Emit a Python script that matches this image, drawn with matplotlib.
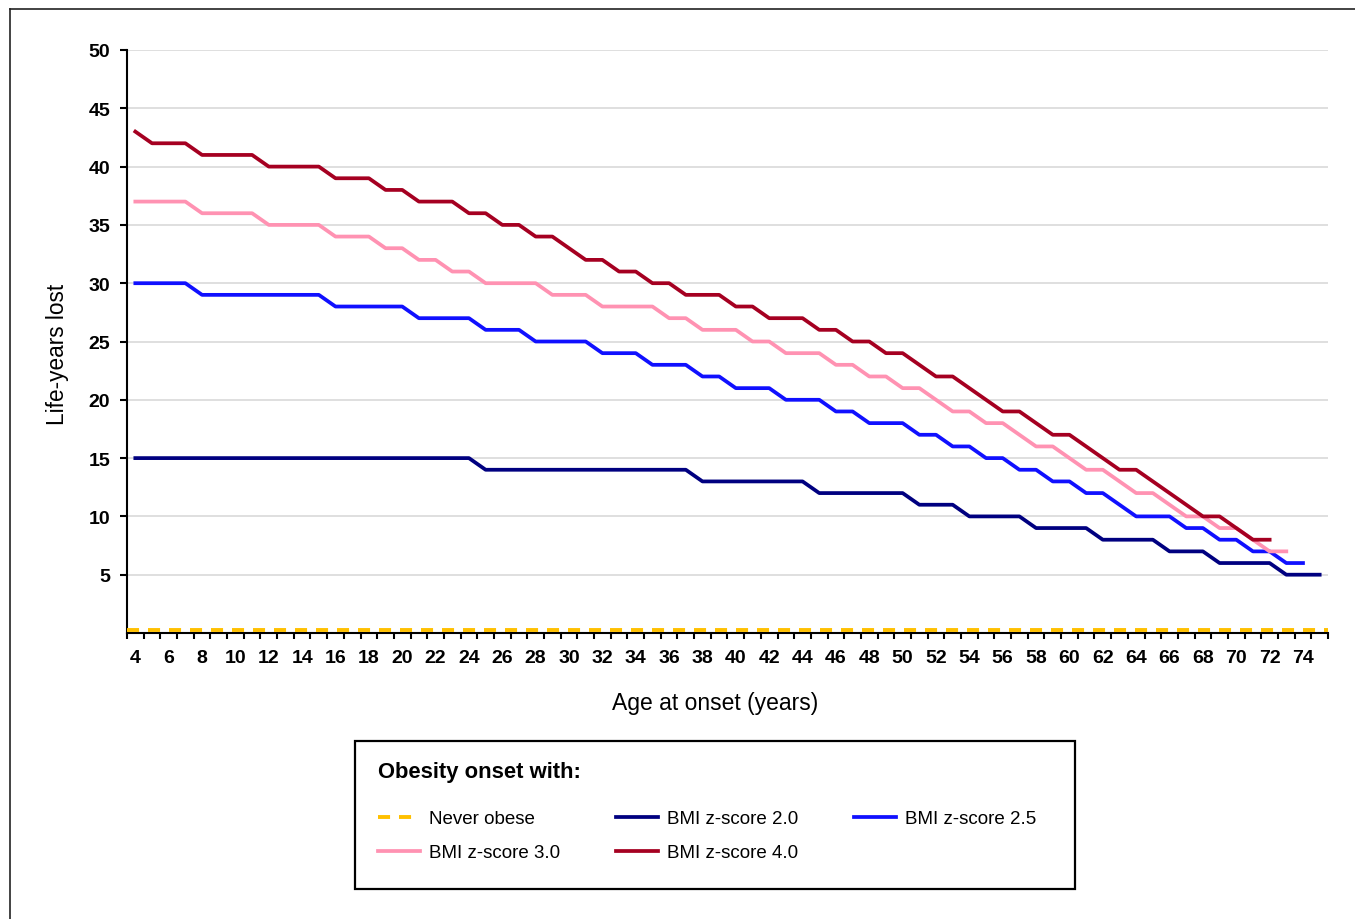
import matplotlib
matplotlib.use("Agg")
import matplotlib.pyplot as plt
from matplotlib.lines import Line2D
from matplotlib.patches import Rectangle

plt.rcParams['font.family'] = ['Liberation Sans', 'DejaVu Sans']

# data: life-years lost by age at obesity onset
ages = list(range(4, 76))
never_obese = 0.3
z20 = [15, 15, 15, 15, 15, 15, 15, 15, 15, 15, 15, 15, 15, 15, 15, 15, 15, 15, 15, 15, 15,
       14, 14, 14, 14, 14, 14, 14, 14, 14, 14, 14, 14, 14,
       13, 13, 13, 13, 13, 13, 13,
       12, 12, 12, 12, 12, 12,
       11, 11, 11,
       10, 10, 10, 10,
       9, 9, 9, 9,
       8, 8, 8, 8,
       7, 7, 7,
       6, 6, 6, 6,
       5, 5, 5]
z25 = [30, 30, 30, 30, 29, 29, 29, 29, 29, 29, 29, 29, 28, 28, 28, 28, 28,
       27, 27, 27, 27, 26, 26, 26, 25, 25, 25, 25, 24, 24, 24, 23, 23, 23,
       22, 22, 21, 21, 21, 20, 20, 20, 19, 19, 18, 18, 18, 17, 17, 16, 16,
       15, 15, 14, 14, 13, 13, 12, 12, 11, 10, 10, 10, 9, 9, 8, 8, 7, 7, 6, 6]
z30 = [37, 37, 37, 37, 36, 36, 36, 36, 35, 35, 35, 35, 34, 34, 34, 33, 33,
       32, 32, 31, 31, 30, 30, 30, 30, 29, 29, 29, 28, 28, 28, 28, 27, 27,
       26, 26, 26, 25, 25, 24, 24, 24, 23, 23, 22, 22, 21, 21, 20, 19, 19,
       18, 18, 17, 16, 16, 15, 14, 14, 13, 12, 12, 11, 10, 10, 9, 9, 8, 7, 7]
z40 = [43, 42, 42, 42, 41, 41, 41, 41, 40, 40, 40, 40, 39, 39, 39, 38, 38,
       37, 37, 37, 36, 36, 35, 35, 34, 34, 33, 32, 32, 31, 31, 30, 30,
       29, 29, 29, 28, 28, 27, 27, 27, 26, 26, 25, 25, 24, 24, 23, 22, 22,
       21, 20, 19, 19, 18, 17, 17, 16, 15, 14, 14, 13, 12, 11, 10, 10, 9, 8, 8]

labels = ['Never obese', 'BMI z-score 2.0', 'BMI z-score 2.5', 'BMI z-score 3.0', 'BMI z-score 4.0']
colors = ['#FFC000', '#000080', '#1010FF', '#FF92B2', '#A50021']

W, H = 1355, 920
fig = plt.figure(figsize=(W / 100, H / 100), dpi=100)
ax = fig.add_axes([127 / W, 1 - 634 / H, (1328 - 127) / W, (634 - 51) / H])

lw = 2.7
h_never = ax.axhline(never_obese, color=colors[0], lw=2.8, dashes=(3.1, 2.3), label=labels[0], zorder=3)
h20, = ax.plot(ages[:len(z20)], z20, color=colors[1], lw=lw, label=labels[1], solid_joinstyle='round')
h25, = ax.plot(ages[:len(z25)], z25, color=colors[2], lw=lw, label=labels[2], solid_joinstyle='round')
h30, = ax.plot(ages[:len(z30)], z30, color=colors[3], lw=lw, label=labels[3], solid_joinstyle='round')
h40, = ax.plot(ages[:len(z40)], z40, color=colors[4], lw=lw, label=labels[4], solid_joinstyle='round')

ax.set_xlim(3.5, 75.5)
ax.set_ylim(0, 50)
ax.set_yticks(range(5, 55, 5))
ax.yaxis.grid(True, color='#D9D9D9', lw=1.2)
ax.set_axisbelow(True)
for s in ['top', 'right']:
    ax.spines[s].set_visible(False)
for s in ['left', 'bottom']:
    ax.spines[s].set_linewidth(1.5)

ax.set_xticks(ages[::2])
ax.set_xticks([a - 0.5 for a in ages] + [ages[-1] + 0.5], minor=True)
ax.tick_params(axis='x', which='major', length=0, pad=11.5, labelsize=14)
ax.tick_params(axis='x', which='minor', length=4, width=1.5, direction='out')
ax.tick_params(axis='y', which='major', length=5, width=1.5, pad=7, labelsize=14)
for t in ax.get_xticklabels() + ax.get_yticklabels():
    t.set_fontweight('bold')

ax.set_ylabel('Life-years lost', fontsize=16.3)
ax.yaxis.set_label_coords(-0.048, 0.479)
ax.set_xlabel('Age at onset (years)', fontsize=16.5)
ax.xaxis.set_label_coords(0.4896, -0.1)

# legend box, title and entries
fig.add_artist(Rectangle((355 / W, 1 - 890 / H), (1075 - 355) / W, (890 - 742) / H,
                         transform=fig.transFigure, fill=False, edgecolor='black', lw=1.6))
fig.text(378 / W, 1 - 773 / H, 'Obesity onset with:', fontsize=15.8, fontweight='bold', va='center', ha='left')
leg = fig.legend([h_never, h30, h20, h40, h25],
                 [labels[0], labels[3], labels[1], labels[4], labels[2]],
                 ncol=3, loc='upper left', bbox_to_anchor=(378 / W, 1 - 811 / H),
                 fontsize=13.5, frameon=False,
                 handlelength=2.25, handletextpad=0.45, columnspacing=3.0,
                 labelspacing=0.9, borderpad=0, borderaxespad=0)

# outer border of the figure
fig.add_artist(Line2D([10 / W, 10 / W], [0, 1 - 10 / H], transform=fig.transFigure, color='#222222', lw=1.2))
fig.add_artist(Line2D([10 / W, 1], [1 - 10 / H, 1 - 10 / H], transform=fig.transFigure, color='#222222', lw=1.2))

fig.savefig('out.png', dpi=100)
